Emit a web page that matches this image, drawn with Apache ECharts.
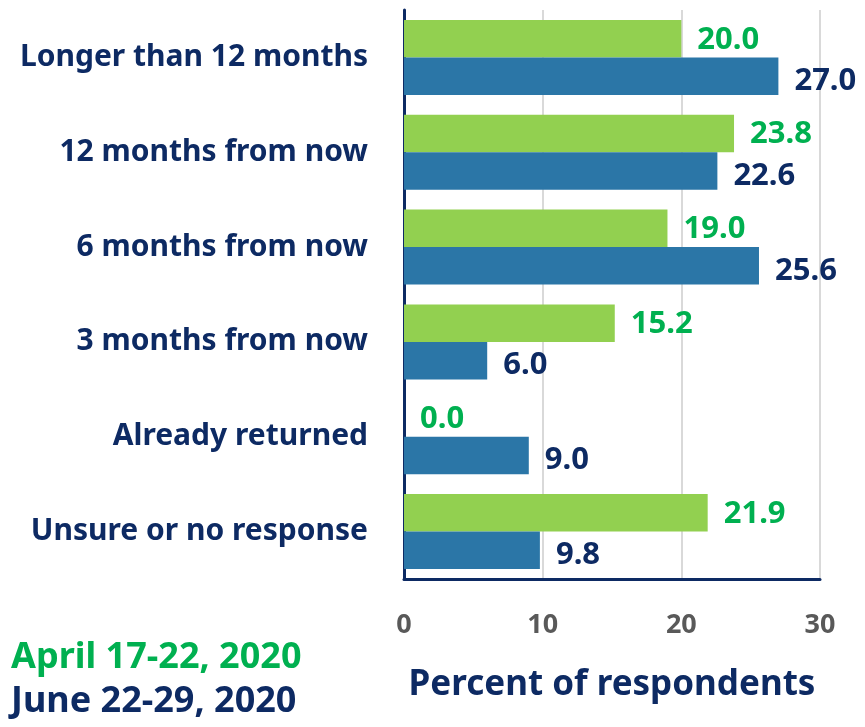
<!DOCTYPE html>
<html>
<head>
<meta charset="utf-8">
<style>
  html, body { margin: 0; padding: 0; background: #fff; }
  #chart { width: 865px; height: 727px; }
</style>
<script src="https://cdn.jsdelivr.net/npm/echarts@6/dist/echarts.min.js"></script>
</head>
<body>
<div id="chart"></div>
<script>
const CATEGORIES = [
  'Longer than 12 months',
  '12 months from now',
  '6 months from now',
  '3 months from now',
  'Already returned',
  'Unsure or no response',
];
const APRIL = [20.0, 23.8, 19.0, 15.2, 0.0, 21.9];
const JUNE = [27.0, 22.6, 25.6, 6.0, 9.0, 9.8];
const X_TICKS = [0, 10, 20, 30];

const NAVY = '#0d2a63';
const GREEN_TEXT = '#00b050';
const FONT = 'Noto Sans';

const chart = echarts.init(document.querySelector('#chart'));

const labelFor = (color, offsetY) => ({
  show: true,
  position: 'right',
  distance: 16,
  offset: [0, offsetY],
  formatter: (p) => p.value.toFixed(1),
  color,
  fontFamily: FONT,
  fontWeight: 'bold',
  fontSize: 31,
});

chart.setOption({
  animation: false,
  textStyle: { fontFamily: FONT },
  grid: { left: 404, right: 45, top: 10, bottom: 148, containLabel: false },
  legend: {
    orient: 'vertical',
    left: 6,
    top: 640,
    height: 87,
    padding: 0,
    icon: 'none',
    itemWidth: 0,
    itemHeight: 0,
    itemGap: 8,
    selectedMode: false,
    textStyle: { fontFamily: FONT, fontWeight: 'bold', fontSize: 36 },
    data: [
      { name: 'April 17-22, 2020', textStyle: { color: GREEN_TEXT } },
      { name: 'June 22-29, 2020', textStyle: { color: NAVY } },
    ],
  },
  xAxis: {
    type: 'value',
    min: X_TICKS[0],
    max: X_TICKS[X_TICKS.length - 1],
    interval: 10,
    name: 'Percent of respondents',
    nameLocation: 'middle',
    nameGap: 89,
    nameTextStyle: { color: NAVY, fontFamily: FONT, fontWeight: 'bold', fontSize: 35 },
    axisLine: { show: true, lineStyle: { color: NAVY, width: 3 } },
    axisTick: { show: false },
    axisLabel: { margin: 33, color: '#595959', fontFamily: FONT, fontWeight: 'bold', fontSize: 27 },
    splitLine: { show: true, lineStyle: { color: '#d9d9d9', width: 2 } },
  },
  yAxis: {
    type: 'category',
    inverse: true,
    data: CATEGORIES,
    axisLine: { show: true, lineStyle: { color: NAVY, width: 3 } },
    axisTick: { show: false },
    axisLabel: { margin: 36, color: NAVY, fontFamily: FONT, fontWeight: 'bold', fontSize: 30, offset: [0, 2] },
  },
  series: [
    {
      name: 'April 17-22, 2020',
      type: 'bar',
      data: APRIL,
      barGap: '0%',
      barCategoryGap: '21%',
      itemStyle: { color: '#92d050' },
      label: labelFor(GREEN_TEXT, 1),
    },
    {
      name: 'June 22-29, 2020',
      type: 'bar',
      data: JUNE,
      itemStyle: { color: '#2b76a7' },
      label: labelFor(NAVY, 5),
    },
  ],
});

window.addEventListener('resize', () => chart.resize());
</script>
</body>
</html>
